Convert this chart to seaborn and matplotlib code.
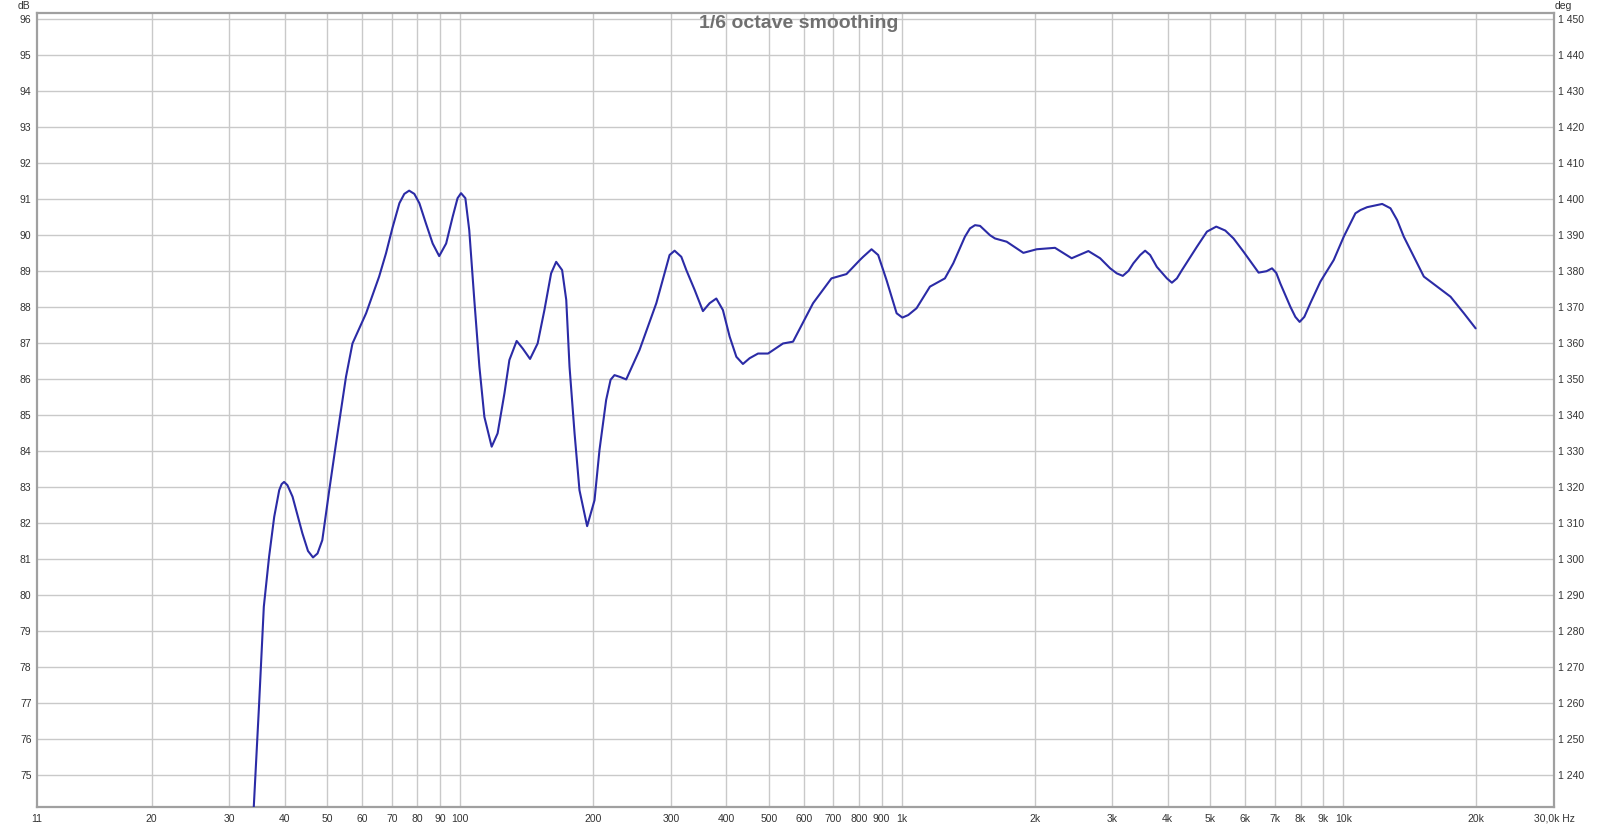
import numpy as np
import pandas as pd
import matplotlib
matplotlib.use("Agg")
import matplotlib.pyplot as plt
import seaborn as sns
from matplotlib.ticker import FixedLocator, NullLocator

# (frequency Hz, level dB)
freq = [33.0, 34.0, 35.0, 35.9, 36.9, 37.9, 38.9, 39.4, 39.9, 40.6, 41.7, 43.9, 45.2, 46.4, 47.5,
        48.7, 50.5, 52.3,
        55.1, 57.0, 61.2, 65.5, 67.9, 70.2, 72.8, 74.7, 76.6, 78.7, 80.8, 83.6, 86.6, 89.6,
        92.9, 96.1, 98.6, 100.4, 102.7, 104.8, 107.6, 110.5, 113.4, 117.8, 121.5, 125.9,
        129.2, 134.2, 138.5, 143.9, 149.7, 155.1, 160.6, 164.9, 170.1, 173.8, 176.8, 181.5,
        186.2, 193.8, 201.4, 206.7, 214.0, 219.0, 223.5, 230.0, 237.6, 254.7, 278.0, 290.2, 297.9, 305.8,
        316.7, 325.1, 339.5, 354.5, 367.1, 380.1, 393.4, 407.5, 422.0, 436.7, 452.2, 472.5,
        497.8, 538.3, 567.1, 629.6, 692.9, 749.4, 803.5, 817.5, 854.0, 884.1, 923.6, 973.4,
        1003, 1034, 1080, 1158, 1252, 1308, 1390, 1427, 1465, 1504, 1584, 1626, 1728, 1885,
        2021, 2223, 2425, 2646, 2813, 2964, 3068, 3166, 3262, 3346, 3467, 3557, 3651, 3781,
        3985, 4090, 4198, 4310, 4660, 4910, 5154, 5403, 5641, 5944, 6428, 6700, 6894, 7050, 7198, 7587,
        7786, 7962, 8160, 8420, 8872, 9511, 10022, 10650, 10933, 11320, 11715, 12245, 12785,
        13241, 13706, 15218, 16314, 17491, 18752, 19937]
spl = [71.0, 73.9, 76.88, 79.67, 81.06, 82.17, 82.91, 83.08, 83.14, 83.05, 82.73, 81.71, 81.22, 81.04, 81.15,
       81.52, 82.91, 84.2,
       86.06, 86.99, 87.83, 88.85, 89.50, 90.20, 90.89, 91.15, 91.24, 91.15, 90.89, 90.33, 89.77, 89.42,
       89.77, 90.51, 91.03, 91.17, 91.03, 90.14, 88.20, 86.34, 84.95, 84.12, 84.49, 85.60,
       86.53, 87.06, 86.85, 86.56, 86.99, 87.92, 88.94, 89.26, 89.03, 88.20, 86.34, 84.49,
       82.91, 81.91, 82.63, 84.03, 85.42, 85.98, 86.11, 86.06, 85.99, 86.81, 88.11, 88.94, 89.45, 89.57,
       89.40, 89.03, 88.48, 87.89, 88.11, 88.24, 87.92, 87.18, 86.62, 86.42, 86.58, 86.71,
       86.71, 86.99, 87.04, 88.11, 88.80, 88.92, 89.31, 89.40, 89.61, 89.45, 88.75, 87.83,
       87.71, 87.78, 87.97, 88.57, 88.80, 89.22, 89.96, 90.19, 90.28, 90.26, 90.00, 89.91, 89.82, 89.51,
       89.61, 89.65, 89.36, 89.56, 89.36, 89.08, 88.94, 88.87, 89.01, 89.22, 89.45, 89.57, 89.45, 89.12,
       88.80, 88.68, 88.80, 89.03, 89.68, 90.10, 90.24, 90.13, 89.91, 89.54, 88.96, 89.00, 89.08, 88.95, 88.66, 88.01,
       87.73, 87.59, 87.73, 88.11, 88.71, 89.31, 89.96, 90.61, 90.70, 90.78, 90.82, 90.87, 90.75,
       90.42, 89.96, 88.85, 88.57, 88.29, 87.83, 87.41]

x_grid = [20, 30, 40, 50, 60, 70, 80, 90, 100, 200, 300, 400, 500, 600, 700, 800, 900, 1000,
          2000, 3000, 4000, 5000, 6000, 7000, 8000, 9000, 10000, 20000]
x_ticks = [11] + x_grid + [30000]
x_labels = ["11", "20", "30", "40", "50", "60", "70", "80", "90", "100", "200", "300", "400",
            "500", "600", "700", "800", "900", "1k", "2k", "3k", "4k", "5k", "6k", "7k", "8k",
            "9k", "10k", "20k", "30,0k Hz"]
y_ticks = list(range(75, 97))
deg_ticks = list(range(1240, 1451, 10))
deg_labels = ["1 %03d" % (d - 1000) for d in deg_ticks]
title = "1/6 octave smoothing"

sns.set_theme(style="white")
plt.rcParams['font.family'] = ['Liberation Sans', 'DejaVu Sans']

fig = plt.figure(figsize=(16, 8.26), dpi=100)
ax = fig.add_axes([37/1600, 19/826, 1517/1600, 794/826])

df = pd.DataFrame({"freq": freq, "spl": spl})
sns.lineplot(data=df, x="freq", y="spl", ax=ax, color="#2b2ba6", linewidth=1.5,
             estimator=None, sort=False, zorder=3)
ax.set_xscale("log")
ax.set_xlim(11, 30000)
ylo, yhi = 74.10, 96.18
ax.set_ylim(ylo, yhi)

ax.xaxis.set_major_locator(FixedLocator(x_ticks))
ax.xaxis.set_minor_locator(NullLocator())
ax.set_xticklabels(x_labels)
ax.set_yticks(y_ticks)
ax.set_yticklabels([str(v) for v in y_ticks])
ax.set_xlabel("")
ax.set_ylabel("")

gc = "#c9c9c9"
for xv in x_grid:
    ax.axvline(xv, color=gc, linewidth=1.0, zorder=1)
for yv in y_ticks:
    ax.axhline(yv, color=gc, linewidth=1.0, zorder=1)

ax.tick_params(axis="both", length=0, labelsize=7.5, labelcolor="#333333")
ax.tick_params(axis="x", pad=5)
ax.tick_params(axis="y", pad=4)
for s in ax.spines.values():
    s.set_color("#a0a0a0")
    s.set_linewidth(1.6)

ax2 = ax.twinx()
ax2.set_ylim(1450 + (ylo - 96) * 10, 1450 + (yhi - 96) * 10)
ax2.set_yticks(deg_ticks)
ax2.set_yticklabels(deg_labels)
ax2.tick_params(axis="y", length=0, labelsize=7.5, labelcolor="#333333", pad=3)
for s in ax2.spines.values():
    s.set_visible(False)
ax2.grid(False)

fig.text(30/1600, 1 - 6/826, "dB", ha="right", va="center", fontsize=7.5, color="#333333")
fig.text(1555/1600, 1 - 6/826, "deg", ha="left", va="center", fontsize=7.5, color="#333333")
fig.text(799/1600, 1 - 24/826, title, ha="center", va="center", fontsize=14,
         fontweight="bold", color="#707070")

fig.savefig("out.png", dpi=100)
